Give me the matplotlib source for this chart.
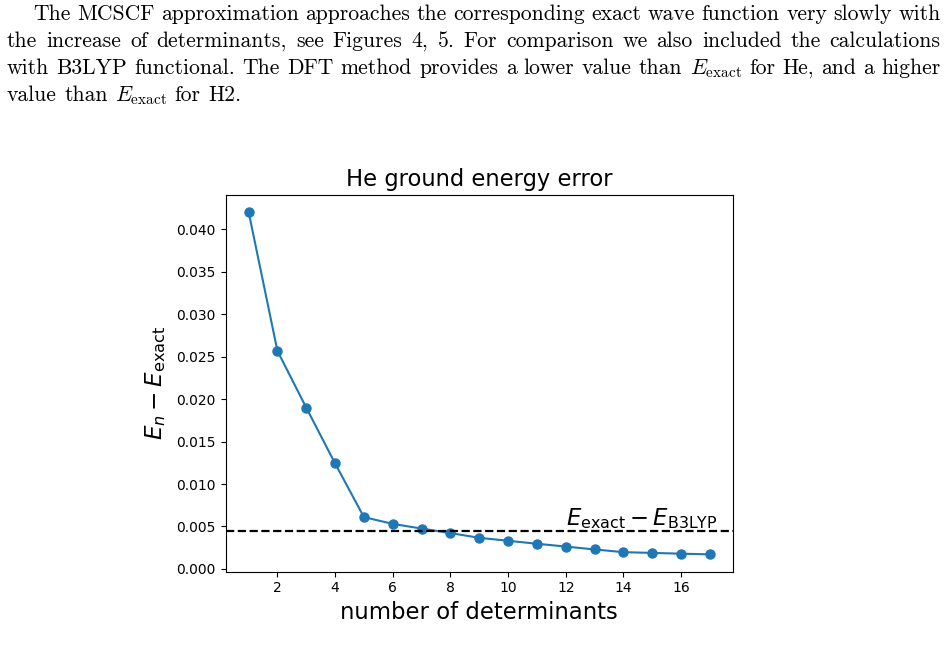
import matplotlib
matplotlib.use("Agg")
import matplotlib.pyplot as plt

# data
n_det = list(range(1, 18))
err = [0.0421, 0.0257, 0.0190, 0.01243, 0.0061, 0.0053, 0.00475, 0.00422,
       0.00366, 0.00331, 0.00296, 0.00263, 0.00229, 0.00197, 0.00188,
       0.00179, 0.00171]
b3lyp_err = 0.00441

# paragraph above the figure
para_lines = [
    "The MCSCF approximation approaches the corresponding exact wave function very slowly with",
    "the increase of determinants, see Figures 4, 5.  For comparison we also included the calculations",
    "with B3LYP functional. The DFT method provides a lower value than $E_{\\mathrm{exact}}$ for He, and a higher",
    "value than $E_{\\mathrm{exact}}$ for H2.",
]

W, H = 949, 654
plt.rcParams['mathtext.fontset'] = 'cm'
plt.rcParams['axes.unicode_minus'] = False
fig = plt.figure(figsize=(W / 100, H / 100), dpi=100)

# text block, placed word by word so the lines are justified
starts = [33.3, 6.7, 6.7, 6.7]
ends = [940.7, 940.7, 940.7, None]
baselines = [20, 47, 74, 101]
renderer = fig.canvas.get_renderer()
for line, x0, x1, yb in zip(para_lines, starts, ends, baselines):
    words = line.split()
    txts = [fig.text(0, 1 - yb / H, w, family='cmr10', fontsize=15.6,
                     va='baseline', ha='left') for w in words]
    widths = [t.get_window_extent(renderer).width for t in txts]
    if x1 is None:
        gap = 7.5
    else:
        gap = (x1 - x0 - sum(widths)) / (len(words) - 1)
    x = x0
    for t, w in zip(txts, widths):
        t.set_x(x / W)
        x += w + gap

# the chart
ax = fig.add_axes([225.5 / W, 1 - 571.5 / H, (733 - 225.5) / W, (571.5 - 194.5) / H])
ax.plot(n_det, err, 'o-', color='#1f77b4', markersize=6.5)
ax.axhline(b3lyp_err, color='k', linestyle='--', linewidth=1.6)
ax.text(12, 0.0045, r'$E_{\mathrm{exact}} - E_{\mathrm{B3LYP}}$',
        fontsize=16.4, va='bottom', family='DejaVu Sans')
ax.set_title('He ground energy error', fontsize=16.3)
ax.set_xlabel('number of determinants', fontsize=16.4)
ax.set_ylabel(r'$E_n - E_{\mathrm{exact}}$', fontsize=16.6, labelpad=6)
for lab in ax.get_xticklabels() + ax.get_yticklabels():
    lab.set_fontsize(10)
ax.title.set_fontfamily('DejaVu Sans')

# mathtext in the chart uses DejaVu like the original
for t in [ax.xaxis.label, ax.yaxis.label] + ax.texts:
    t.set_math_fontfamily('dejavusans')

fig.savefig('out.png', dpi=100)
